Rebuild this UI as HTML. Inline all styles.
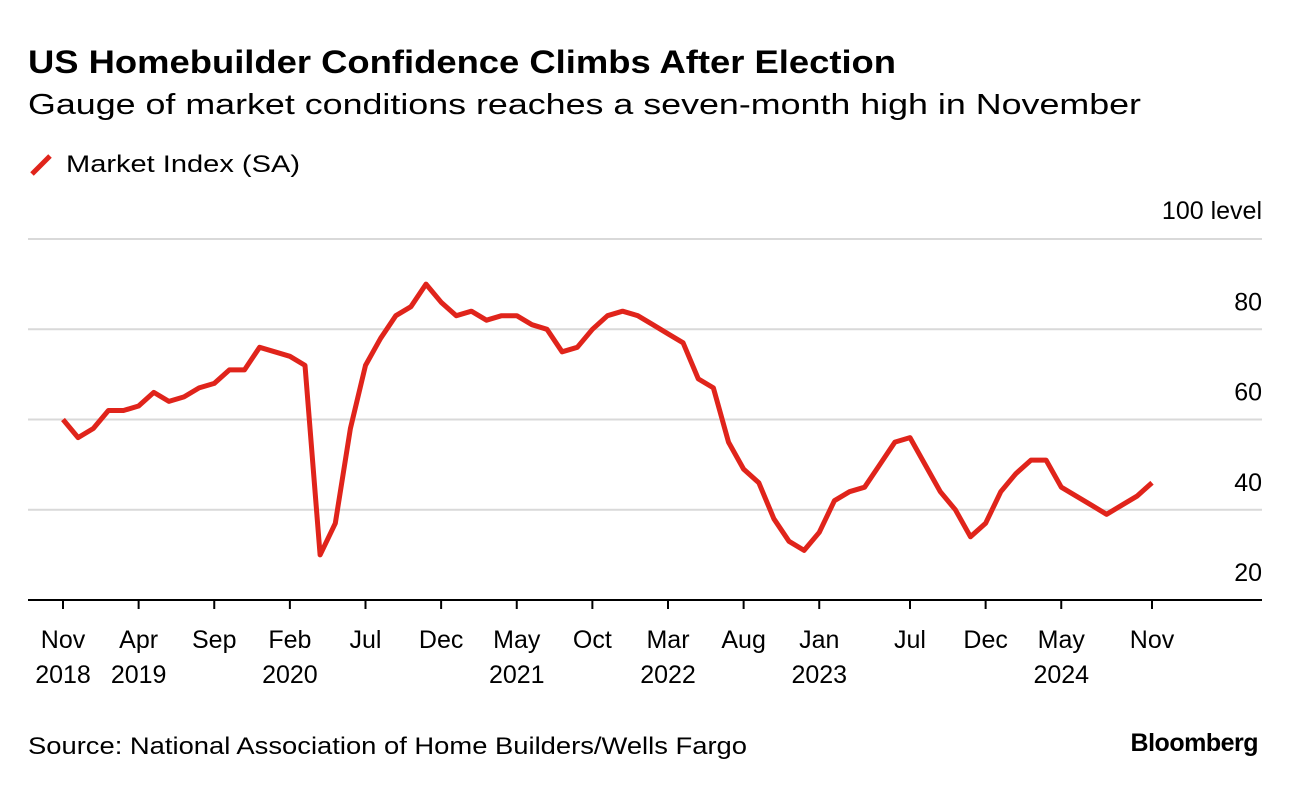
<!DOCTYPE html>
<html><head><meta charset="utf-8"><style>
body{margin:0;background:#fff;font-family:"Liberation Sans",sans-serif;}
svg text{font-family:"Liberation Sans",sans-serif;}
</style></head><body>
<svg id="chart" width="1296" height="786" xmlns="http://www.w3.org/2000/svg">
<text x="28" y="73" font-size="32" font-weight="bold" fill="#000" textLength="868" lengthAdjust="spacingAndGlyphs">US Homebuilder Confidence Climbs After Election</text>
<text x="28" y="114" font-size="29" fill="#000" textLength="1113" lengthAdjust="spacingAndGlyphs">Gauge of market conditions reaches a seven-month high in November</text>
<line x1="32" y1="174" x2="50" y2="156" stroke="#e0241b" stroke-width="5"/>
<text x="66" y="172" font-size="24" fill="#000" textLength="234" lengthAdjust="spacingAndGlyphs">Market Index (SA)</text>
<text x="1262" y="219" font-size="25" fill="#000" text-anchor="end">100 level</text>
<g id="grid"></g><g id="xaxis"></g>
<path id="line" fill="none" stroke="#e0241b" stroke-width="5" stroke-linejoin="round"/>
<text x="28" y="754" font-size="24" fill="#000" textLength="719" lengthAdjust="spacingAndGlyphs">Source: National Association of Home Builders/Wells Fargo</text>
<text x="1258" y="751" font-size="25" font-weight="bold" fill="#000" text-anchor="end" letter-spacing="-0.5">Bloomberg</text>
</svg>
<script>
const values=[60,56,58,62,62,63,66,64,65,67,68,71,71,76,75,74,72,30,37,58,72,78,83,85,90,86,83,84,82,83,83,81,80,75,76,80,83,84,83,81,79,77,69,67,55,49,46,38,33,31,35,42,44,45,50,55,56,50,44,40,34,37,44,48,51,51,45,43,41,39,41,43,46];
const yTicks=[20,40,60,80];
const xTickIdx=[0,5,10,15,20,25,30,35,40,45,50,56,61,66,72];
const xTickMonth=["Nov","Apr","Sep","Feb","Jul","Dec","May","Oct","Mar","Aug","Jan","Jul","Dec","May","Nov"];
const xTickYear=["2018","2019","","2020","","","2021","","2022","","2023","","","2024",""];
const NS="http://www.w3.org/2000/svg";
const x=i=>63+i*(1152-63)/72;
const y=v=>600-(v-20)*(600-239)/80;
const grid=document.getElementById('grid'),xa=document.getElementById('xaxis');
function mk(tag,attrs,parent,txt){const e=document.createElementNS(NS,tag);for(const k in attrs)e.setAttribute(k,attrs[k]);if(txt!==undefined)e.textContent=txt;parent.appendChild(e);return e;}
[40,60,80,100].forEach(v=>{const l=mk('line',{x1:28,x2:1262,y1:y(v),y2:y(v),stroke:'#d9d9d9','stroke-width':2},grid);

});
yTicks.forEach(v=>{const t=mk('text',{x:1262,y:y(v)-19,'font-size':25,'text-anchor':'end',fill:'#000'},grid,String(v));

});
const ax=mk('line',{x1:28,x2:1262,y1:600,y2:600,stroke:'#000','stroke-width':2},xa);


xTickIdx.forEach((idx,k)=>{const tk=mk('line',{x1:x(idx),x2:x(idx),y1:600,y2:609,stroke:'#000','stroke-width':2},xa);


const t=mk('text',{x:x(idx),y:648,'font-size':25,'text-anchor':'middle',fill:'#000'},xa,xTickMonth[k]);


if(xTickYear[k]){const t2=mk('text',{x:x(idx),y:683,'font-size':25,'text-anchor':'middle',fill:'#000'},xa,xTickYear[k]);

}});
document.getElementById('line').setAttribute('d',values.map((v,i)=>(i?'L':'M')+x(i).toFixed(1)+','+y(v).toFixed(1)).join(''));
</script>
</body></html>
